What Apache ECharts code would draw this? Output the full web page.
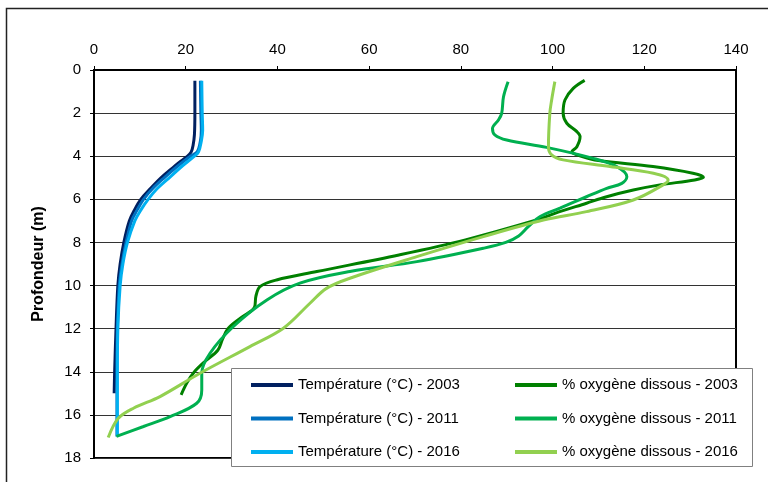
<!DOCTYPE html>
<html>
<head>
<meta charset="utf-8">
<script src="https://cdn.jsdelivr.net/npm/echarts@6/dist/echarts.min.js"></script>
<style>html,body{margin:0;padding:0;background:#fff;}#c{width:768px;height:492px;}</style>
</head>
<body>
<div id="c"></div>
<script>
// Depth (m) and values
const xTicks = [0, 20, 40, 60, 80, 100, 120, 140];
const depthTicks = [0, 2, 4, 6, 8, 10, 12, 14, 16, 18];

const depthT2003 = [0.5, 2, 3, 3.5, 3.8, 4, 4.3, 4.6, 5, 5.5, 6, 6.5, 7, 8, 9, 10, 12, 14, 15];
const tempT2003  = [22.0, 22.0, 21.9, 21.6, 21.2, 20.4, 18.5, 16.8, 14.6, 12.3, 10.2, 8.8, 7.7, 6.5, 5.7, 5.2, 4.8, 4.5, 4.4];

const depthT2011 = [0.5, 2, 2.8, 3.3, 3.8, 4, 4.5, 5, 5.5, 6, 6.5, 7, 8, 9, 10, 12, 14, 16, 17];
const tempT2011  = [23.2, 23.3, 23.4, 23.2, 22.5, 21.0, 18.0, 15.3, 12.8, 10.8, 9.4, 8.2, 7.0, 6.1, 5.5, 5.1, 5.0, 5.0, 5.0];

const depthT2016 = [0.5, 2, 2.8, 3.3, 3.8, 4, 4.5, 5, 5.5, 6, 6.5, 7, 8, 9, 10, 12, 14, 16, 17];
const tempT2016  = [23.5, 23.6, 23.7, 23.4, 22.8, 21.9, 19.0, 16.4, 13.8, 11.8, 10.2, 8.9, 7.3, 6.3, 5.7, 5.2, 5.1, 5.1, 5.1];

const depthO2003 = [0.48, 0.85, 1.39, 2.0, 2.47, 2.86, 3.09, 3.56, 3.79, 4.0, 4.2, 4.48, 4.79, 4.97, 5.1, 5.33, 5.57, 5.88, 6.18, 6.65, 6.96, 7.88, 8.58, 9.35, 9.74, 10.05, 10.5, 11.0, 11.5, 12.0, 12.5, 13.0, 13.5, 14.0, 14.5, 15.07];
const oxyO2003   = [107, 104.5, 102.7, 102.3, 103.1, 105.3, 106.0, 105.3, 104.2, 106.3, 110, 121.9, 130.6, 132.9, 131, 123.4, 117.6, 111.8, 107.4, 100.5, 96.5, 81, 66.5, 48.6, 39.8, 36.2, 35.3, 35.0, 32, 29.2, 28, 27, 24.3, 21.9, 20.3, 19.0];

const depthO2011 = [0.54, 1.24, 2.01, 2.32, 2.71, 3.01, 3.25, 3.59, 4.1, 4.48, 4.95, 5.26, 5.49, 5.88, 6.41, 6.8, 7.27, 7.7, 8.0, 8.27, 8.89, 9.35, 9.89, 10.67, 11.9, 13.14, 14.07, 14.84, 15.46, 16.08, 16.54, 17.0];
const oxyO2011   = [90.3, 89.3, 88.9, 88.2, 86.9, 87.4, 90, 98.7, 108.9, 114.0, 116.2, 115.1, 111.8, 107.4, 101.6, 97.3, 94.7, 92.6, 89.8, 84.9, 70.4, 55.8, 44.9, 37.7, 30.4, 25.3, 23.5, 23.5, 22.4, 16.6, 10.8, 4.9];

const depthO2016 = [0.54, 1.39, 2.01, 3.56, 3.94, 4.17, 4.48, 4.79, 5.1, 5.33, 6.03, 6.57, 6.96, 7.73, 8.66, 9.66, 10.13, 10.82, 11.98, 12.83, 14.07, 15.15, 15.69, 16.16, 17.05];
const oxyO2016   = [100.5, 99.8, 99.4, 99.1, 99.8, 102.3, 112.5, 122, 125.2, 124.1, 117.6, 107.4, 98, 84.9, 70.4, 55.8, 50.7, 47.1, 41.3, 34.0, 23.1, 14.4, 8.6, 5.3, 3.1];

const names = [
  'Température (°C) - 2003', 'Température (°C) - 2011', 'Température (°C) - 2016',
  '% oxygène dissous - 2003', '% oxygène dissous - 2011', '% oxygène dissous - 2016'
];
const colors = ['#002060', '#0070C0', '#00B0F0', '#008000', '#00B050', '#92D050'];
const seriesData = [
  [tempT2003, depthT2003], [tempT2011, depthT2011], [tempT2016, depthT2016],
  [oxyO2003, depthO2003], [oxyO2011, depthO2011], [oxyO2016, depthO2016]
];

const FONT = 'Liberation Sans, Arial, sans-serif';

const chart = echarts.init(document.getElementById('c'), null, {renderer: 'canvas'});
const legendCommon = {
  orient: 'vertical',
  top: 376,
  padding: 0,
  itemGap: 15.5,
  itemWidth: 42,
  itemHeight: 4,
  icon: 'rect',
  selectedMode: false,
  z: 6,
  textStyle: {color: '#000', fontSize: 15, fontFamily: FONT, lineHeight: 18}
};
chart.setOption({
  animation: false,
  backgroundColor: '#fff',
  color: colors,
  grid: {left: 94, right: 32, top: 70, bottom: 34, show: true, borderColor: '#000', borderWidth: 2, backgroundColor: 'transparent'},
  xAxis: {
    type: 'value', position: 'top', min: 0, max: 140, interval: 20,
    axisLine: {show: true, lineStyle: {color: '#000', width: 2}},
    axisTick: {show: true, length: 4, lineStyle: {color: '#000'}},
    axisLabel: {color: '#000', fontSize: 15, fontFamily: FONT, margin: 13,
      formatter: v => xTicks.includes(v) ? String(v) : ''},
    splitLine: {show: false}
  },
  yAxis: {
    type: 'value', inverse: true, min: 0, max: 18, interval: 2,
    name: 'Profondeur (m)', nameLocation: 'middle', nameGap: 47,
    nameTextStyle: {color: '#000', fontSize: 16, fontWeight: 'bold', fontFamily: FONT},
    axisLine: {show: true, lineStyle: {color: '#000', width: 2}},
    axisTick: {show: true, length: 4, lineStyle: {color: '#000'}},
    axisLabel: {color: '#000', fontSize: 15, fontFamily: FONT, margin: 13,
      formatter: v => depthTicks.includes(v) ? String(v) : ''},
    splitLine: {show: true, lineStyle: {color: '#333', width: 1}}
  },
  legend: [
    Object.assign({}, legendCommon, {left: 251, data: names.slice(0, 3)}),
    Object.assign({}, legendCommon, {left: 515, data: names.slice(3)})
  ],
  graphic: [
    {type: 'polyline', z: 1, silent: true,
      shape: {points: [[6.5, 482], [6.5, 8.5], [768, 8.5]]},
      style: {stroke: '#222', lineWidth: 1.5, fill: null}},
    {type: 'rect', z: 5, silent: true,
      shape: {x: 231.5, y: 368.5, width: 521, height: 98},
      style: {fill: '#fff', stroke: '#808080', lineWidth: 1}}
  ],
  series: names.map((n, i) => ({
    name: n, type: 'line', smooth: 0.35, showSymbol: false, symbol: 'none',
    z: 3,
    lineStyle: {color: colors[i], width: 3},
    itemStyle: {color: colors[i]},
    data: seriesData[i][0].map((v, k) => [v, seriesData[i][1][k]])
  }))
});
</script>
</body>
</html>
